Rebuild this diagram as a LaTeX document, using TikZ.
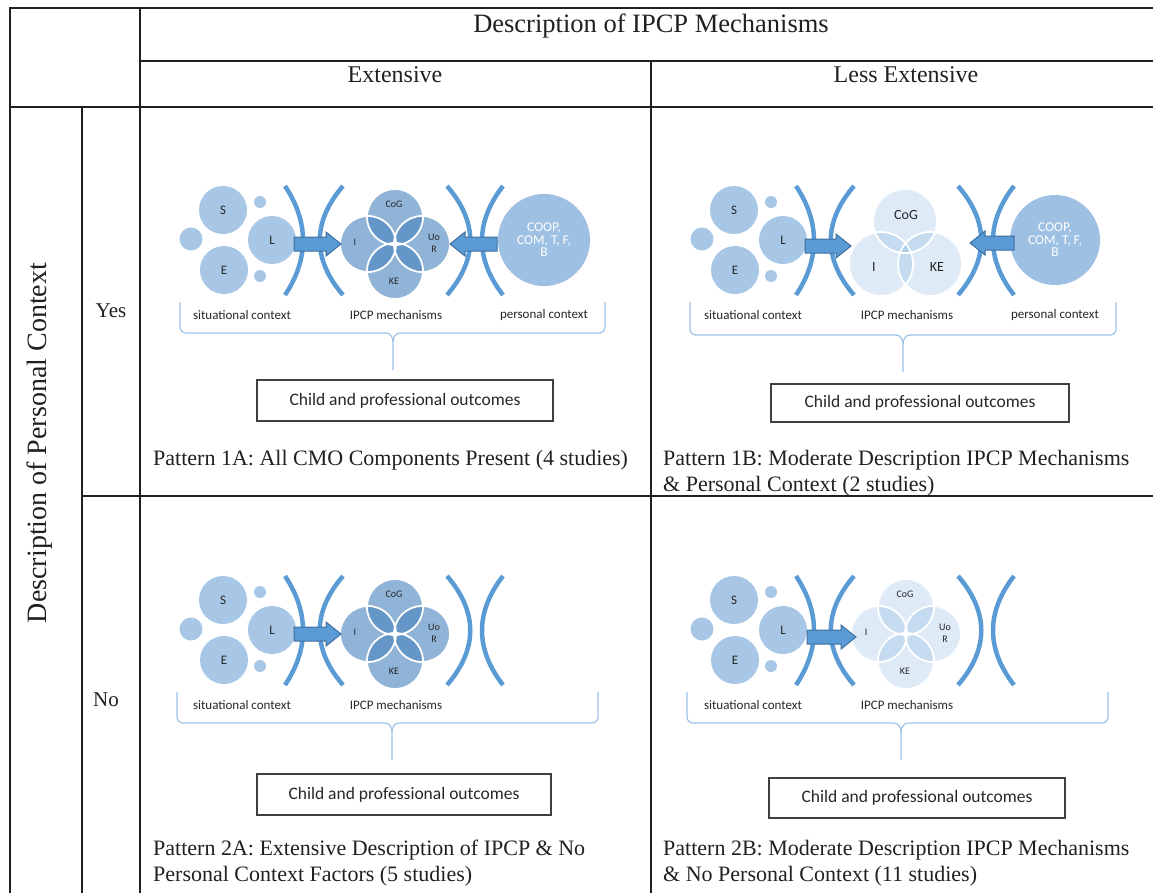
\documentclass[tikz,border=0pt]{standalone}
\usepackage{fontspec}
\setmainfont{Liberation Serif}
\newfontfamily\calfont{Carlito}
\definecolor{tline}{HTML}{231F20}
\definecolor{lightc}{RGB}{168,199,231}
\definecolor{brkc}{HTML}{5B9BD5}
\definecolor{arrf}{HTML}{5B9BD5}
\definecolor{arrd}{HTML}{3E6E9E}
\definecolor{coopc}{RGB}{157,192,227}
\definecolor{mechc}{RGB}{70,130,190}
\definecolor{mechl}{HTML}{5B9BD5}
\definecolor{bracec}{HTML}{9DC3E6}
\definecolor{boxd}{HTML}{404040}
\definecolor{txt}{HTML}{262626}
\tikzset{
  tl/.style={draw=tline, line width=2.8pt, line cap=rect},
  lc/.style={circle, fill=lightc, inner sep=0pt, text=txt, font=\calfont\fontsize{13}{15}\selectfont},
  brk/.style={draw=brkc, line width=4.5pt},
  barr/.style={fill=arrf, draw=arrd, line width=1pt},
  darkm/.style={fill=mechc, fill opacity=0.6},
  lightm/.style={fill=mechl, fill opacity=0.2},
  wline/.style={draw=white, line width=1.8pt},
  ctxt/.style={text=txt, font=\calfont\fontsize{10}{12}\selectfont, inner sep=0pt},
  ctxtb/.style={text=txt, font=\calfont\fontsize{14}{16}\selectfont, inner sep=0pt},
  lbl/.style={text=txt, font=\calfont\fontsize{13}{15}\selectfont, inner sep=0pt},
  brc/.style={draw=bracec, line width=1.2pt},
  obox/.style={draw=boxd, line width=1.2pt, text=txt, font=\calfont\fontsize{17.5}{20}\selectfont, inner sep=0pt},
  coop/.style={circle, fill=coopc, inner sep=0pt, text=white, align=center, font=\calfont\fontsize{13.5}{12.5}\selectfont},
  pat/.style={text=tline, font=\fontsize{22}{26}\selectfont, inner sep=0pt, anchor=base west},
  hdr/.style={text=tline, inner sep=0pt},
}
\newcommand\situ[1]{%
  \node[lc, minimum size=48pt] (#1S) at (223,210) {S};
  \node[lc, minimum size=48pt] (#1E) at (224,270) {E};
  \node[lc, minimum size=48pt] (#1L) at (272,240) {L};
  \node[lc, minimum size=23pt] (#1sa) at (191,239) {};
  \node[lc, minimum size=12pt] (#1sb) at (260,202) {};
  \node[lc, minimum size=12pt] (#1sc) at (260,276) {};
  \draw[brk] (285,186) .. controls (309,222) and (309,259) .. (285,295);
  \draw[brk] (343,186) .. controls (312,222) and (312,259) .. (343,295);
  \draw[brk] (447,186) .. controls (478,222) and (478,259) .. (447,295);
  \draw[brk] (503,186) .. controls (475,222) and (475,259) .. (503,295);
}
\newcommand\barrow[4]{%
  \filldraw[barr] (#1,#4-7) -- (#2,#4-7) -- (#2,#4-12) -- (#3,#4) -- (#2,#4+12) -- (#2,#4+7) -- (#1,#4+7) -- cycle;
}
\newcommand\fourc[3]{%
  \foreach \dx/\dy in {0/-27,-27/0,27/0,0/27} \fill[#3] (#1+\dx,#2+\dy) circle[radius=28];
  \foreach \dx/\dy in {0/-27,-27/0,27/0,0/27} \draw[wline] (#1+\dx,#2+\dy) circle[radius=28];
}
\newcommand\cbrace[6]{%
  \draw[brc] (#1,#3) -- (#1,#4-6) to[out=-90,in=180] (#1+6,#4) -- (#5-7,#4) to[out=0,in=90] (#5,#4+9) -- (#5,#6);
  \draw[brc] (#2,#3) -- (#2,#4-6) to[out=-90,in=0] (#2-6,#4) -- (#5+7,#4) to[out=180,in=90] (#5,#4+9);
}
\begin{document}
\begin{tikzpicture}[x=1pt,y=-1pt]
\useasboundingbox (0,0) rectangle (1153,892);
% table rules
\draw[tl] (10,8) -- (1153,8);
\draw[tl] (140,61) -- (1153,61);
\draw[tl] (10,107) -- (1153,107);
\draw[tl] (82,496) -- (1153,496);
\draw[tl] (10,8) -- (10,892);
\draw[tl] (82,107) -- (82,892);
\draw[tl] (140,8) -- (140,892);
\draw[tl] (651,61) -- (651,892);
% headers
\node[hdr, font=\fontsize{26.5}{30}\selectfont] (htitle) at (651,26) {Description of IPCP Mechanisms};
\node[hdr, font=\fontsize{24}{28}\selectfont] (hext) at (395,75) {Extensive};
\node[hdr, font=\fontsize{24}{28}\selectfont] (hless) at (906,75) {Less Extensive};
\node[hdr, font=\fontsize{21}{25}\selectfont] (hyes) at (111,311) {Yes};
\node[hdr, font=\fontsize{21}{25}\selectfont] (hno) at (106,700) {No};
\node[hdr, rotate=90, font=\fontsize{28}{32}\selectfont] (hvert) at (40,443) {Description of Personal Context};

% ===== 1A =====
\situ{a}
\fourc{395}{244}{darkm}
\node[ctxt] (aCoG) at (394,204) {CoG};
\node[ctxt] (aI) at (355,242) {I};
\node[ctxt, align=center] (aUoR) at (434,243.5) {Uo\\R};
\node[ctxt] (aKE) at (394,281) {KE};
\barrow{294}{326}{341}{244}
\node[coop, minimum size=92pt] (aCOOP) at (544,240) {COOP,\\COM, T, F,\\B};
\barrow{497}{465}{450}{244}
\node[lbl] (asit) at (242,315) {situational context};
\node[lbl] (amech) at (396,315) {IPCP mechanisms};
\node[lbl] (apers) at (544,315) {personal context};
\cbrace{180}{605}{302}{333}{393}{370}
\node[obox, minimum width=296pt, minimum height=41pt] (aout) at (405,400.5) {Child and professional outcomes};
\node[pat] (apat) at (153,465) {Pattern 1A: All CMO Components Present (4 studies)};

% ===== 1B =====
\begin{scope}[shift={(511,0)}]
\situ{b}
\end{scope}
\foreach \cx/\cy in {905/221,881/264,930/264} \fill[lightm] (\cx,\cy) circle[radius=32];
\foreach \cx/\cy in {905/221,881/264,930/264} \draw[wline] (\cx,\cy) circle[radius=32];
\node[ctxtb] (bCoG) at (906,215) {CoG};
\node[ctxtb] (bI) at (874,267) {I};
\node[ctxtb] (bKE) at (937,267) {KE};
\barrow{805}{836}{851}{246}
\node[coop, minimum size=90pt] (bCOOP) at (1055,240) {COOP,\\COM, T, F,\\B};
\barrow{1014}{985}{970}{243}
\node[lbl] (bsit) at (753,315) {situational context};
\node[lbl] (bmech) at (907,315) {IPCP mechanisms};
\node[lbl] (bpers) at (1055,315) {personal context};
\cbrace{690}{1116}{302}{335}{903}{372}
\node[obox, minimum width=298pt, minimum height=38pt] (bout) at (920,403) {Child and professional outcomes};
\node[pat] (bpat1) at (663,465) {Pattern 1B: Moderate Description IPCP Mechanisms};
\node[pat] (bpat2) at (663,491) {\& Personal Context (2 studies)};

% ===== 2A =====
\begin{scope}[shift={(0,390)}]
\situ{c}
\end{scope}
\fourc{395}{634}{darkm}
\node[ctxt] (cCoG) at (394,594) {CoG};
\node[ctxt] (cI) at (355,632) {I};
\node[ctxt, align=center] (cUoR) at (434,633.5) {Uo\\R};
\node[ctxt] (cKE) at (394,671) {KE};
\barrow{294}{326}{341}{634}
\node[lbl] (csit) at (242,705) {situational context};
\node[lbl] (cmech) at (396,705) {IPCP mechanisms};
\cbrace{177}{598}{692}{723}{392}{760}
\node[obox, minimum width=294pt, minimum height=41pt] (cout) at (404,794.5) {Child and professional outcomes};
\node[pat] (cpat1) at (153,855) {Pattern 2A: Extensive Description of IPCP \& No};
\node[pat] (cpat2) at (153,881) {Personal Context Factors (5 studies)};

% ===== 2B =====
\begin{scope}[shift={(511,390)}]
\situ{d}
\end{scope}
\fourc{906}{634}{lightm}
\node[ctxt] (dCoG) at (905,594) {CoG};
\node[ctxt] (dI) at (866,632) {I};
\node[ctxt, align=center] (dUoR) at (945,633.5) {Uo\\R};
\node[ctxt] (dKE) at (905,671) {KE};
\barrow{807}{841}{856}{637}
\node[lbl] (dsit) at (753,705) {situational context};
\node[lbl] (dmech) at (907,705) {IPCP mechanisms};
\cbrace{687}{1108}{692}{723}{901}{760}
\node[obox, minimum width=296pt, minimum height=40pt] (dout) at (917,798) {Child and professional outcomes};
\node[pat] (dpat1) at (663,855) {Pattern 2B: Moderate Description IPCP Mechanisms};
\node[pat] (dpat2) at (663,881) {\& No Personal Context (11 studies)};
\end{tikzpicture}
\end{document}
